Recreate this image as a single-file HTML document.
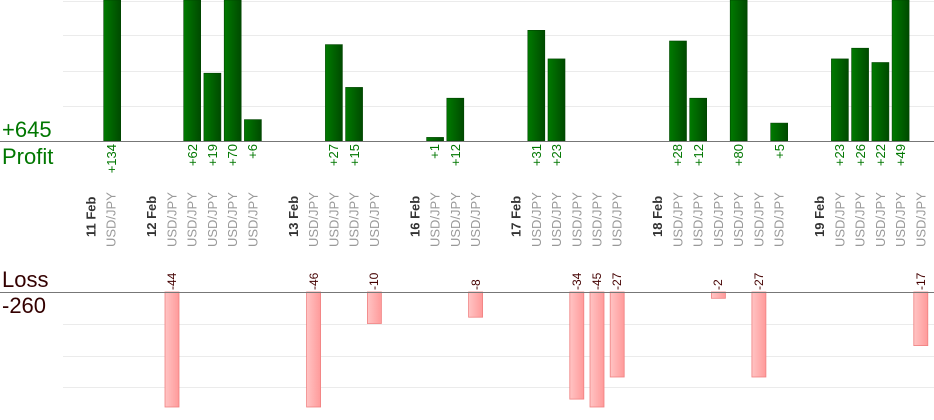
<!DOCTYPE html>
<html><head><style>
body{margin:0;background:#fff}
svg{display:block;font-family:"Liberation Sans",sans-serif}
.u{fill:#999;font-size:13px}
.d{fill:#333;font-size:13px;font-weight:bold}
.p{fill:#070;font-size:13px}
.l{fill:#400;font-size:12px}
</style></head><body>
<svg width="934" height="420" viewBox="0 0 934 420">
<defs>
<linearGradient id="g" x1="0" x2="1"><stop offset="0" stop-color="#007a00"/><stop offset="1" stop-color="#004a00"/></linearGradient>
<linearGradient id="r" x1="0" x2="1"><stop offset="0" stop-color="#ffc4c4"/><stop offset="1" stop-color="#ff9a9a"/></linearGradient>
</defs>
<g stroke="#ebebeb" stroke-width="1">
<line x1="63" x2="934" y1="1.5" y2="1.5"/><line x1="63" x2="934" y1="35.5" y2="35.5"/><line x1="63" x2="934" y1="71.5" y2="71.5"/><line x1="63" x2="934" y1="106.5" y2="106.5"/>
<line x1="63" x2="934" y1="324.5" y2="324.5"/><line x1="63" x2="934" y1="356.5" y2="356.5"/><line x1="63" x2="934" y1="387.5" y2="387.5"/>
</g>
<g fill="url(#g)" stroke="#004400" stroke-width="0.6">
<rect x="103.7" y="0" width="17" height="141"/>
<rect x="183.7" y="0" width="17" height="141"/>
<rect x="203.9" y="73.2" width="17" height="67.8"/>
<rect x="224.2" y="0" width="17" height="141"/>
<rect x="244.4" y="119.6" width="17" height="21.4"/>
<rect x="325.4" y="44.6" width="17" height="96.4"/>
<rect x="345.6" y="87.4" width="17" height="53.6"/>
<rect x="426.6" y="137.4" width="17" height="3.6"/>
<rect x="446.8" y="98.2" width="17" height="42.8"/>
<rect x="527.8" y="30.3" width="17" height="110.7"/>
<rect x="548" y="58.9" width="17" height="82.1"/>
<rect x="669.5" y="41" width="17" height="100"/>
<rect x="689.7" y="98.2" width="17" height="42.8"/>
<rect x="730.2" y="0" width="17" height="141"/>
<rect x="770.7" y="123.1" width="17" height="17.9"/>
<rect x="831.4" y="58.9" width="17" height="82.1"/>
<rect x="851.6" y="48.2" width="17" height="92.8"/>
<rect x="871.9" y="62.5" width="17" height="78.5"/>
<rect x="892.1" y="0" width="17" height="141"/>
</g>
<g fill="url(#r)" stroke="#f08080" stroke-width="0.8">
<rect x="165" y="292" width="14" height="115"/>
<rect x="306.6" y="292" width="14" height="115"/>
<rect x="367.4" y="292" width="14" height="31.5"/>
<rect x="468.6" y="292" width="14" height="25.2"/>
<rect x="569.8" y="292" width="14" height="107.1"/>
<rect x="590" y="292" width="14" height="115"/>
<rect x="610.2" y="292" width="14" height="85"/>
<rect x="711.4" y="292" width="14" height="6.3"/>
<rect x="751.9" y="292" width="14" height="85"/>
<rect x="913.8" y="292" width="14" height="53.6"/>
</g>
<line x1="0" x2="934" y1="141.5" y2="141.5" stroke="#777"/>
<line x1="0" x2="934" y1="292.5" y2="292.5" stroke="#777"/>
<text x="2" y="137" fill="#070" font-size="22">+645</text>
<text x="2" y="164" fill="#070" font-size="22">Profit</text>
<text x="2" y="287" fill="#300" font-size="22">Loss</text>
<text x="2" y="313" fill="#300" font-size="22">-260</text>
<g class="p" text-anchor="end">
<text transform="translate(116,144) rotate(-90)">+134</text>
<text transform="translate(197,144) rotate(-90)">+62</text>
<text transform="translate(217,144) rotate(-90)">+19</text>
<text transform="translate(237,144) rotate(-90)">+70</text>
<text transform="translate(257,144) rotate(-90)">+6</text>
<text transform="translate(338,144) rotate(-90)">+27</text>
<text transform="translate(359,144) rotate(-90)">+15</text>
<text transform="translate(439,144) rotate(-90)">+1</text>
<text transform="translate(460,144) rotate(-90)">+12</text>
<text transform="translate(541,144) rotate(-90)">+31</text>
<text transform="translate(561,144) rotate(-90)">+23</text>
<text transform="translate(682,144) rotate(-90)">+28</text>
<text transform="translate(703,144) rotate(-90)">+12</text>
<text transform="translate(743,144) rotate(-90)">+80</text>
<text transform="translate(784,144) rotate(-90)">+5</text>
<text transform="translate(844,144) rotate(-90)">+23</text>
<text transform="translate(865,144) rotate(-90)">+26</text>
<text transform="translate(885,144) rotate(-90)">+22</text>
<text transform="translate(905,144) rotate(-90)">+49</text>
</g>
<g class="l">
<text transform="translate(176,290) rotate(-90)">-44</text>
<text transform="translate(318,290) rotate(-90)">-46</text>
<text transform="translate(378,290) rotate(-90)">-10</text>
<text transform="translate(480,290) rotate(-90)">-8</text>
<text transform="translate(581,290) rotate(-90)">-34</text>
<text transform="translate(601,290) rotate(-90)">-45</text>
<text transform="translate(621,290) rotate(-90)">-27</text>
<text transform="translate(722,290) rotate(-90)">-2</text>
<text transform="translate(763,290) rotate(-90)">-27</text>
<text transform="translate(925,290) rotate(-90)">-17</text>
</g>
<g class="d">
<text transform="translate(95.5,237) rotate(-90)">11 Feb</text>
<text transform="translate(156.2,237) rotate(-90)">12 Feb</text>
<text transform="translate(297.9,237) rotate(-90)">13 Feb</text>
<text transform="translate(419.3,237) rotate(-90)">16 Feb</text>
<text transform="translate(520.5,237) rotate(-90)">17 Feb</text>
<text transform="translate(662.2,237) rotate(-90)">18 Feb</text>
<text transform="translate(824.1,237) rotate(-90)">19 Feb</text>
</g>
<g class="u">
<text transform="translate(115.7,247) rotate(-90)">USD/JPY</text>
<text transform="translate(176.5,247) rotate(-90)">USD/JPY</text>
<text transform="translate(196.7,247) rotate(-90)">USD/JPY</text>
<text transform="translate(216.9,247) rotate(-90)">USD/JPY</text>
<text transform="translate(237.2,247) rotate(-90)">USD/JPY</text>
<text transform="translate(257.4,247) rotate(-90)">USD/JPY</text>
<text transform="translate(318.1,247) rotate(-90)">USD/JPY</text>
<text transform="translate(338.4,247) rotate(-90)">USD/JPY</text>
<text transform="translate(358.6,247) rotate(-90)">USD/JPY</text>
<text transform="translate(378.9,247) rotate(-90)">USD/JPY</text>
<text transform="translate(439.6,247) rotate(-90)">USD/JPY</text>
<text transform="translate(459.8,247) rotate(-90)">USD/JPY</text>
<text transform="translate(480.1,247) rotate(-90)">USD/JPY</text>
<text transform="translate(540.8,247) rotate(-90)">USD/JPY</text>
<text transform="translate(561,247) rotate(-90)">USD/JPY</text>
<text transform="translate(581.3,247) rotate(-90)">USD/JPY</text>
<text transform="translate(601.5,247) rotate(-90)">USD/JPY</text>
<text transform="translate(621.7,247) rotate(-90)">USD/JPY</text>
<text transform="translate(682.5,247) rotate(-90)">USD/JPY</text>
<text transform="translate(702.7,247) rotate(-90)">USD/JPY</text>
<text transform="translate(722.9,247) rotate(-90)">USD/JPY</text>
<text transform="translate(743.2,247) rotate(-90)">USD/JPY</text>
<text transform="translate(763.4,247) rotate(-90)">USD/JPY</text>
<text transform="translate(783.7,247) rotate(-90)">USD/JPY</text>
<text transform="translate(844.4,247) rotate(-90)">USD/JPY</text>
<text transform="translate(864.6,247) rotate(-90)">USD/JPY</text>
<text transform="translate(884.9,247) rotate(-90)">USD/JPY</text>
<text transform="translate(905.1,247) rotate(-90)">USD/JPY</text>
<text transform="translate(925.3,247) rotate(-90)">USD/JPY</text>
</g>
</svg>
</body></html>
